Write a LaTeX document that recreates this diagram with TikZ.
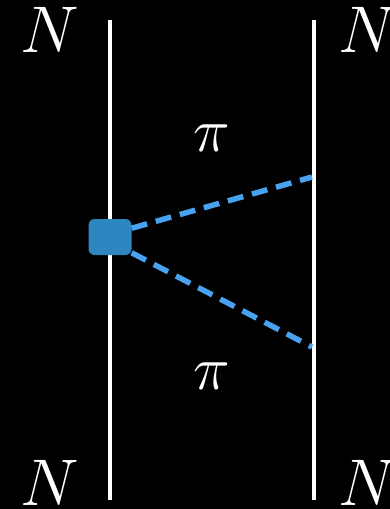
\RequirePackage{fix-cm}
\documentclass[tikz,border=0pt]{standalone}
\definecolor{vtxblue}{RGB}{46,134,193}
\definecolor{pionblue}{RGB}{72,162,240}
\begin{document}
\begin{tikzpicture}[x=1pt,y=-1pt,every node/.style={text=white},
  nlabel/.style={font=\fontsize{66}{66}\selectfont},
  pilabel/.style={font=\fontsize{62}{62}\selectfont},
  nucleon/.style={draw=white,line width=3.5pt},
  pion/.style={draw=pionblue,line width=5.5pt,dash pattern=on 16pt off 9pt}]
  \fill[black] (0,0) rectangle (390,509);
  \useasboundingbox (0,0) rectangle (390,509);
  % nucleon lines
  \coordinate (l0) at (110,20); \coordinate (l1) at (110,500);
  \coordinate (r0) at (314,20); \coordinate (r1) at (314,500);
  \draw[nucleon] (l0) -- (l1);
  \draw[nucleon] (r0) -- (r1);
  \node[nlabel] (ntl) at (50,30) {$N$};
  \node[nlabel] (ntr) at (368,30) {$N$};
  \node[nlabel] (nbl) at (50,483) {$N$};
  \node[nlabel] (nbr) at (368,483) {$N$};
  % vertex and pions
  \coordinate (pa) at (312,177); \coordinate (pb) at (312,347);
  \node[fill=vtxblue,rounded corners=6pt,minimum width=43pt,minimum height=36pt,inner sep=0pt] (vtx) at (110,237) {};
  \draw[pion] (vtx.22) -- (pa);
  \draw[pion] (vtx.-36) -- (pb);
  \node[pilabel] (pi1) at (212,138) {$\pi$};
  \node[pilabel] (pi2) at (212,376) {$\pi$};
\end{tikzpicture}
\end{document}
